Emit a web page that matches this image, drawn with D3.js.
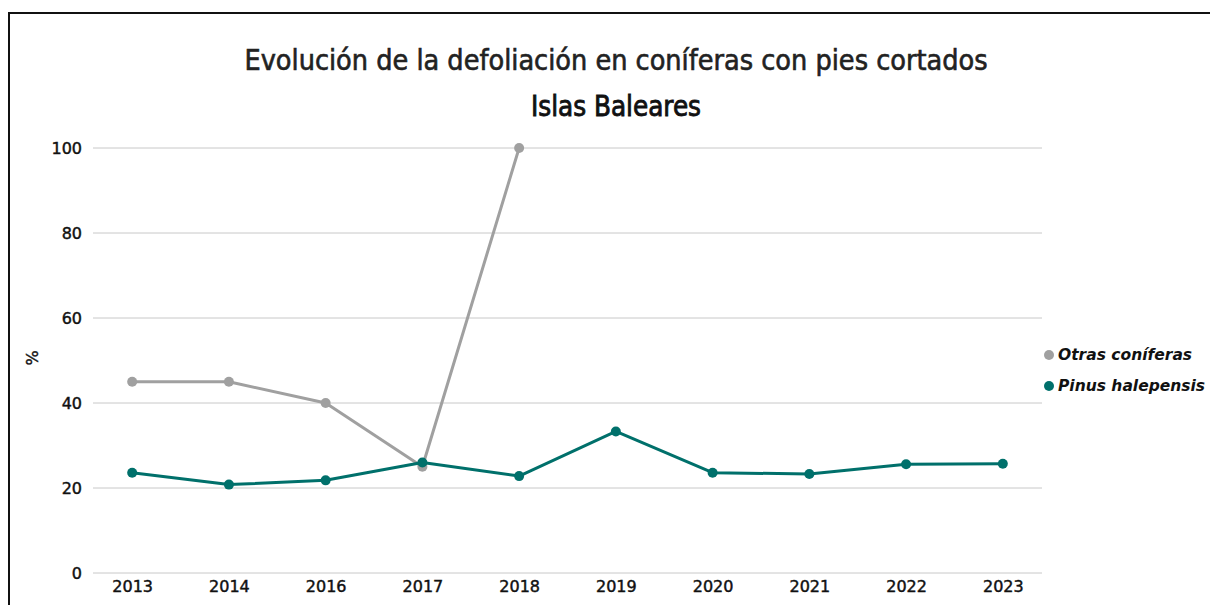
<!DOCTYPE html>
<html><head><meta charset="utf-8">
<script src="https://cdn.jsdelivr.net/npm/d3@7"></script>
<style>
body{margin:0;background:#fff;}
svg{display:block;}
</style></head>
<body>
<script>
const years = ["2013","2014","2016","2017","2018","2019","2020","2021","2022","2023"];
const otrasConiferas = [45, 45, 40, 25, 100, null, null, null, null, null];
const pinusHalepensis = [23.6, 20.8, 21.8, 26.0, 22.8, 33.3, 23.6, 23.3, 25.6, 25.7];
const yTicks = [0, 20, 40, 60, 80, 100];
const seriesNames = ["Otras coníferas", "Pinus halepensis"];
const seriesColors = ["#a0a0a0", "#00706b"];

(function(){
const W = 1210, H = 605;
const svg = d3.select("body").append("svg").attr("width", W).attr("height", H);

// outer border
svg.append("rect").attr("x", 9).attr("y", 13).attr("width", W + 10).attr("height", H + 10)
  .attr("fill", "none").attr("stroke", "#111").attr("stroke-width", 2);

const pLeft = 93, pRight = 1042, pTop = 148, pBottom = 573;
const x = d3.scalePoint().domain(years).range([pLeft, pRight]).padding(0.405);
const y = d3.scaleLinear().domain([0, 100]).range([pBottom, pTop]);

// grid
svg.append("g").selectAll("line").data(yTicks).join("line")
  .attr("x1", pLeft).attr("x2", pRight)
  .attr("y1", d => y(d)).attr("y2", d => y(d))
  .attr("stroke", "#c8c8c8").attr("stroke-width", 1);

function labelStyle(sel){
  sel.attr("font-family", "DejaVu Sans").attr("font-size", 16)
    .attr("fill", "#111").attr("stroke", "#111").attr("stroke-width", 0.45);
}

// y axis labels
const yAxis = d3.axisLeft(y).tickValues(yTicks).tickSize(0).tickPadding(0);
const yg = svg.append("g").attr("transform", `translate(${pLeft - 11},0)`).call(yAxis);
yg.select(".domain").remove();
yg.selectAll("text").call(labelStyle).attr("dy", "0.35em");

// x axis labels
const xAxis = d3.axisBottom(x).tickSize(0).tickPadding(0);
const xg = svg.append("g").attr("transform", `translate(0,${pBottom + 8})`).call(xAxis);
xg.select(".domain").remove();
xg.selectAll("text").call(labelStyle);

// y axis title
svg.append("text").attr("transform", `translate(38,358) rotate(-90)`)
  .attr("text-anchor", "middle").call(labelStyle).text("%");

// titles
svg.append("text").attr("x", 616).attr("y", 70).attr("text-anchor", "middle")
  .attr("font-family", "DejaVu Sans Condensed, DejaVu Sans").attr("font-size", 28.5)
  .attr("fill", "#222").attr("stroke", "#222").attr("stroke-width", 0.6)
  .text("Evolución de la defoliación en coníferas con pies cortados");
svg.append("text").attr("x", 616).attr("y", 116).attr("text-anchor", "middle")
  .attr("font-family", "DejaVu Sans Condensed, DejaVu Sans").attr("font-size", 27.5)
  .attr("fill", "#111").attr("stroke", "#111").attr("stroke-width", 0.8)
  .text("Islas Baleares");

const allSeries = [otrasConiferas, pinusHalepensis];
const line = d3.line().defined(d => d.v != null).x(d => x(d.k)).y(d => y(d.v));
allSeries.forEach((vals, i) => {
  const data = years.map((k, j) => ({k, v: vals[j]}));
  svg.append("path").datum(data).attr("d", line).attr("fill", "none")
    .attr("stroke", seriesColors[i]).attr("stroke-width", 3).attr("stroke-linejoin", "round");
  svg.append("g").selectAll("circle").data(data.filter(d => d.v != null)).join("circle")
    .attr("cx", d => x(d.k)).attr("cy", d => y(d.v)).attr("r", 5)
    .attr("fill", seriesColors[i]);
});

// legend
const lg = svg.append("g");
seriesNames.forEach((n, i) => {
  const yy = 355 + i * 31;
  lg.append("circle").attr("cx", 1049).attr("cy", yy).attr("r", 5).attr("fill", seriesColors[i]);
  lg.append("text").attr("x", 1058).attr("y", yy).attr("dy", "0.35em")
    .attr("font-family", "DejaVu Sans").attr("font-size", 15.5).attr("font-style", "italic")
    .attr("font-weight", "bold").attr("fill", "#111").text(n);
});
})();
</script>
</body></html>
